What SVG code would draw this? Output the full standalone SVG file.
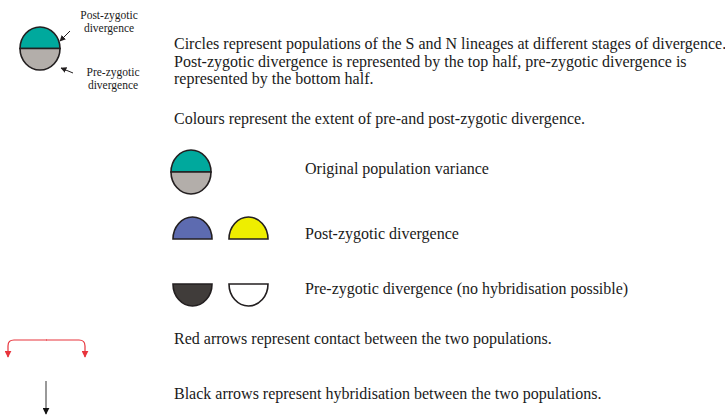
<svg xmlns="http://www.w3.org/2000/svg" width="725" height="416" viewBox="0 0 725 416">
<style>
.t{font-family:"Liberation Serif","Times New Roman",serif;font-size:16px;fill:#1a1a1a}
.s{font-family:"Liberation Serif","Times New Roman",serif;font-size:11.5px;fill:#1a1a1a}
.o{stroke:#231f20;stroke-width:1.6}
</style>
<defs>
<marker id="ab" viewBox="0 0 10 10" refX="9" refY="5" markerWidth="6" markerHeight="6" orient="auto" markerUnits="userSpaceOnUse"><path d="M0,0 L10,5 L0,10 z" fill="#231f20"/></marker>
<marker id="ar" viewBox="0 0 10 10" refX="9" refY="5" markerWidth="7" markerHeight="7" orient="auto" markerUnits="userSpaceOnUse"><path d="M0,0 L10,5 L0,10 z" fill="#e8343c"/></marker>
<marker id="ak" viewBox="0 0 10 10" refX="9" refY="5" markerWidth="7" markerHeight="7" orient="auto" markerUnits="userSpaceOnUse"><path d="M0,0 L10,5 L0,10 z" fill="#111"/></marker>
</defs>
<g id="legend-key">
<path d="M20,48.5 A20,21.5 0 0 1 60,48.5 Z" fill="#00a99d" class="o"/>
<path d="M20,48.5 A20,21.5 0 0 0 60,48.5 Z" fill="#b3aeaa" class="o"/>
<text class="s" x="109" y="19" text-anchor="middle">Post-zygotic</text>
<text class="s" x="109" y="32" text-anchor="middle">divergence</text>
<text class="s" x="113" y="76" text-anchor="middle">Pre-zygotic</text>
<text class="s" x="113" y="89" text-anchor="middle">divergence</text>
</g>
<g id="intro">
<text class="t" x="174" y="49">Circles represent populations of the S and N lineages at different stages of divergence.</text>
<text class="t" x="174" y="66.5">Post-zygotic divergence is represented by the top half, pre-zygotic divergence is</text>
<text class="t" x="174" y="84">represented by the bottom half.</text>
<text class="t" x="174" y="124">Colours represent the extent of pre-and post-zygotic divergence.</text>
</g>
<g id="original">
<path d="M171,172 A20,22 0 0 1 211,172 Z" fill="#00a99d" class="o"/>
<path d="M171,172 A20,22 0 0 0 211,172 Z" fill="#b3aeaa" class="o"/>
<text class="t" x="305" y="174">Original population variance</text>
</g>
<g id="post">
<path d="M173,239 A19.5,22 0 0 1 212,239 Z" fill="#5d6bb0" class="o"/>
<path d="M229,239 A19.5,22 0 0 1 268,239 Z" fill="#eeee00" class="o"/>
<text class="t" x="305" y="239">Post-zygotic divergence</text>
</g>
<g id="pre">
<path d="M173,284 A19.5,22 0 0 0 212,284 Z" fill="#403c3a" class="o"/>
<path d="M229,284 A19.5,22 0 0 0 268,284 Z" fill="#ffffff" class="o"/>
<text class="t" x="305" y="294">Pre-zygotic divergence (no hybridisation possible)</text>
</g>
<g id="red-arrow">
<text class="t" x="174" y="344">Red arrows represent contact between the two populations.</text>
</g>
<g id="black-arrow">
<text class="t" x="174" y="399">Black arrows represent hybridisation between the two populations.</text>
</g>
<g id="connectors" fill="none">
<line x1="70" y1="31" x2="60" y2="41" stroke="#231f20" stroke-width="1" marker-end="url(#ab)"/>
<line x1="73" y1="73" x2="61" y2="68" stroke="#231f20" stroke-width="1" marker-end="url(#ab)"/>
<path d="M47,340 L14,340 Q8,340 8,346 L8,357" stroke="#e8343c" stroke-width="1.2" marker-end="url(#ar)"/>
<path d="M46,340 L79,340 Q85,340 85,346 L85,357" stroke="#e8343c" stroke-width="1.2" marker-end="url(#ar)"/>
<line x1="46" y1="381" x2="46" y2="414" stroke="#555" stroke-width="1.2" marker-end="url(#ak)"/>
</g>
</svg>
